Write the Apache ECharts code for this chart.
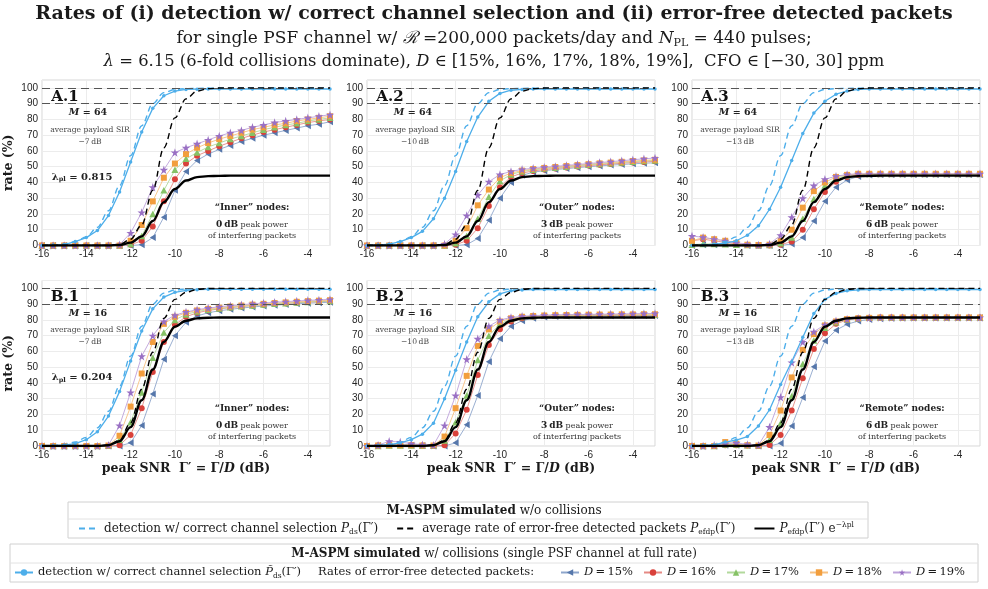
<!DOCTYPE html>
<html><head><meta charset="utf-8">
<script src="https://cdn.jsdelivr.net/npm/echarts@6/dist/echarts.min.js"></script>
<style>html,body{margin:0;padding:0;background:#fff}#c{width:988px;height:589px}</style>
</head><body><div id="c"></div>
<script>
// ---------------- DATA ----------------
const xs = [-16,-15.5,-15,-14.5,-14,-13.5,-13,-12.5,-12,-11.5,-11,-10.5,-10,-9.5,-9,-8.5,-8,-7.5,-7,-6.5,-6,-5.5,-5,-4.5,-4,-3.5,-3];
const xTicks = [-16,-14,-12,-10,-8,-6,-4];
const yTicks = [0,10,20,30,40,50,60,70,80,90,100];
const refLevels = [100, 90];

// w/o collisions (simulated, no markers)
const pdsNoColl = [0.1,0.3,0.8,2.5,5.5,11.5,22,38,57,76,90,97,99,99.5,99.7,99.8,99.8,99.8,99.8,99.8,99.8,99.8,99.8,99.8,99.8,99.8,99.8];
const efdpA   = [0,0,0,0,0,0,0,0.6,4,13,35,62,81,93,98,99.5,99.9,100,100,100,100,100,100,100,100,100,100];
const efdpPlA = [0,0,0,0,0,0,0,0.3,1.8,5.8,15.5,27.5,35.8,41.2,43.4,44,44.2,44.3,44.3,44.3,44.3,44.3,44.3,44.3,44.3,44.3,44.3];
const efdpB   = [0,0,0,0,0,0,0.6,3.7,14.7,36,59.5,81,93,97.5,99.4,99.9,100,100,100,100,100,100,100,100,100,100,100];
const efdpPlB = [0,0,0,0,0,0,0.5,3,12,29,48.5,66,75.7,79.5,81,81.4,81.5,81.5,81.5,81.5,81.5,81.5,81.5,81.5,81.5,81.5,81.5];

// w/ collisions: detection w/ correct channel selection
const pdsA1 = [0,0.3,0.5,2.5,5,9.5,19,34,53,72,87,95,98,99,99.2,99.3,99.3,99.3,99.3,99.3,99.3,99.3,99.3,99.3,99.3,99.3,99.3];
const pdsA2 = [0,0.3,0.8,2.5,5,9,17,30,47,66,81.5,91.5,96.5,98.5,99,99.3,99.3,99.3,99.3,99.3,99.3,99.3,99.3,99.3,99.3,99.3,99.3];
const pdsA3 = [0,0.3,0.8,1.5,3,6.5,12.5,23,37,54,71,84,91.5,96,98,99,99.3,99.3,99.3,99.3,99.3,99.3,99.3,99.3,99.3,99.3,99.3];
const pdsB1 = [0,0.2,0.5,1.5,4,9,19,34.5,54,73,87,94.5,97.5,98.8,99.2,99.4,99.4,99.4,99.4,99.4,99.4,99.4,99.4,99.4,99.4,99.4,99.4];
const pdsB2 = [0,0.3,0.8,2,4,7.5,14.5,30,48,66,82,91.5,96.5,98.5,99,99.3,99.3,99.3,99.3,99.3,99.3,99.3,99.3,99.3,99.3,99.3,99.3];
const pdsB3 = [0,0.3,0.7,2.5,3.8,6,12.7,23,39,53.5,69,84,93,96.8,98.5,99,99.3,99.3,99.3,99.3,99.3,99.3,99.3,99.3,99.3,99.3,99.3];

// w/ collisions: error-free detected packets, D = 15..19 %
const d15A1 = [0,0,0,0,0,0,0,0,0,0.5,5,18,35,47,54,58,61,63.5,66,68,70,71.5,73,74.5,76,77,78.5];
const d16A1 = [0,0,0,0,0,0,0,0,0.5,3,12,28,42,52,57,60,63,65.5,68,70,72,73.5,75,76.5,78,79,80];
const d17A1 = [0,0,0,0,0,0,0,0,1,6,20,35,48,55,59,62.5,65,67.5,69.5,71.5,73.5,75,76.5,77.5,79,80,81];
const d18A1 = [0,0,0,0,0,0,0,0,3,13,28,43,52,58,62,65,67.5,69.5,71.5,73.5,75,76.5,77.5,79,80,81,82];
const d19A1 = [0,0,0,0,0,0,0,0.5,8,21,37,48,59,62,64.5,67,69.5,71.5,73,75,76.5,78,79,80,81,82,83];

const d15A2 = [0,0,0,0,0,0,0,0,0,0.5,4.5,16,30,40,44.5,46.5,47.5,48.2,48.8,49.4,50,50.5,51,51.4,51.8,52.2,52.5];
const d16A2 = [0,0,0,0,0,0,0,0,0.5,3,11,25,37,43.5,46,47.3,48.2,48.9,49.5,50.1,50.7,51.2,51.7,52.2,52.6,53,53.4];
const d17A2 = [0,0,0,0,0,0,0,0,1.5,6,17,31,41,45,47,48,48.8,49.4,50,50.6,51.2,51.7,52.2,52.7,53.2,53.6,54];
const d18A2 = [0,0,0,0,0,0,0,0,3,11,25.5,35.5,43,46,47.5,48.5,49.2,49.8,50.4,51,51.6,52.1,52.6,53.1,53.6,54,54.4];
const d19A2 = [0,0,0,0,0,0,0,1,7,19,32,40.5,45,47,48.3,49,49.6,50.2,50.8,51.4,52,52.6,53.2,53.8,54.4,55,55.5];

const d15A3 = [0,0.5,0.5,1,0.5,0,0,0,0,1,5,15.5,28,37,41.5,43.8,44.8,45,45,45,45,45,45,45,45,45,45];
const d16A3 = [3,4,3,2,1,0.3,0,0,0.5,2.5,10,23,34,40.5,43.5,44.8,45.3,45.3,45.3,45.3,45.3,45.3,45.3,45.3,45.3,45.3,45.3];
const d17A3 = [0.5,1,1,0.8,0.5,0.3,0.2,0.3,1.5,5,17,29.5,38,42.5,44.5,45.3,45.3,45.3,45.3,45.3,45.3,45.3,45.3,45.3,45.3,45.3,45.3];
const d18A3 = [3,5,4,3,1.5,0.5,0.3,0.5,3,10,24,34.5,40,43.5,44.8,45.5,45.5,45.5,45.5,45.5,45.5,45.5,45.5,45.5,45.5,45.5,45.5];
const d19A3 = [6,5.2,4,3,1.8,0.8,0.3,1,6.5,18,30,38,42,44,45,45.5,45.5,45.5,45.5,45.5,45.5,45.5,45.5,45.5,45.5,45.5,45.5];

const d15B1 = [0,0,0,0,0,0,0,0,2,13,33,55,70,78.5,82.5,84.5,85.8,86.7,87.5,88.2,88.8,89.3,89.8,90.2,90.6,90.9,91.2];
const d16B1 = [0,0,0,0,0,0,0,0.5,7,24,47,66,77,82,84.5,86,87,87.8,88.5,89.1,89.6,90.1,90.5,90.9,91.3,91.6,91.9];
const d17B1 = [0,0,0,0,0,0,0.2,4,15,34,56,72,80,83.5,85.3,86.5,87.3,88,88.6,89.2,89.7,90.2,90.6,91,91.4,91.7,92];
const d18B1 = [0,0,0,0,0,0,0.3,6.5,25,46,66,77.5,82,84.5,86,87,87.8,88.5,89.1,89.7,90.2,90.7,91.1,91.5,91.9,92.2,92.5];
const d19B1 = [0,0,0,0,0,0,0.5,13,34,57,70,79,83,85,86.5,87.5,88.3,89,89.6,90.2,90.7,91.2,91.6,92,92.4,92.7,93];

const d15B2 = [0,0.3,0.5,0.5,0.5,0.3,0,0,2,13.5,32,53.5,68,76,79.5,81,81.8,82.2,82.4,82.5,82.6,82.6,82.7,82.7,82.8,82.8,82.8];
const d16B2 = [0,0.3,0.5,0.5,0.5,0.3,0,0.5,8,23,45,64,74,79,81,82,82.4,82.6,82.7,82.8,82.8,82.9,82.9,83,83,83,83];
const d17B2 = [0,0,0.3,0.3,0.3,0.2,0.2,3.5,15,32,54.5,70,77.5,80.5,81.8,82.3,82.6,82.8,82.9,83,83,83.1,83.1,83.2,83.2,83.2,83.2];
const d18B2 = [0,0.3,0.5,0.5,0.5,0.3,0.3,6,24,44.5,63.5,74,79,81,82,82.5,82.8,83,83.1,83.2,83.3,83.4,83.4,83.5,83.5,83.6,83.6];
const d19B2 = [0,0.5,3,2.5,1.5,0.8,0.5,13,32,55,68,76,80,81.5,82.3,82.7,83,83.2,83.3,83.4,83.5,83.6,83.7,83.8,83.9,84,84.1];

const d15B3 = [0,0,0,0.5,0.5,0.3,0,0,1.7,12.7,30.7,50.3,66.6,73.5,77.2,79.3,80.3,80.8,81.1,81.2,81.3,81.3,81.3,81.3,81.3,81.3,81.3];
const d16B3 = [0,0,0,0.5,0.5,0.3,0,0.6,7,22.5,43,61.5,71.5,77.5,80,81,81.3,81.5,81.5,81.5,81.5,81.5,81.5,81.5,81.5,81.5,81.5];
const d17B3 = [0,0,0,1,1,0.5,0.3,4,14.5,31.5,52,67,75,78.5,80.3,81,81.3,81.5,81.5,81.5,81.5,81.5,81.5,81.5,81.5,81.5,81.5];
const d18B3 = [0,0,0,2.5,1.5,0.5,0.3,7,22.5,43.5,61,71,76.5,79,80.5,81,81.3,81.5,81.5,81.5,81.5,81.5,81.5,81.5,81.5,81.5,81.5];
const d19B3 = [0,0,0.5,1.5,2,1,0.5,12,31,53,66,72.5,77,79.5,80.5,81,81.3,81.5,81.5,81.5,81.5,81.5,81.5,81.5,81.5,81.5,81.5];

const dLabels = ['15%','16%','17%','18%','19%'];
const panelIds = ['A.1','A.2','A.3','B.1','B.2','B.3'];
const panelM = ['64','64','64','16','16','16'];
const panelSIR = ['\u22127\u2009dB','\u221210\u2009dB','\u221213\u2009dB','\u22127\u2009dB','\u221210\u2009dB','\u221213\u2009dB'];
const panelLambda = ['0.815', null, null, '0.204', null, null];
const panelNodes = ['\u201cInner\u201d nodes:','\u201cOuter\u201d nodes:','\u201cRemote\u201d nodes:','\u201cInner\u201d nodes:','\u201cOuter\u201d nodes:','\u201cRemote\u201d nodes:'];
const panelPower = ['0\u2009dB','3\u2009dB','6\u2009dB','0\u2009dB','3\u2009dB','6\u2009dB'];

const panelData = [
  {pds: pdsA1, d: [d15A1,d16A1,d17A1,d18A1,d19A1], efdp: efdpA, efdpPl: efdpPlA},
  {pds: pdsA2, d: [d15A2,d16A2,d17A2,d18A2,d19A2], efdp: efdpA, efdpPl: efdpPlA},
  {pds: pdsA3, d: [d15A3,d16A3,d17A3,d18A3,d19A3], efdp: efdpA, efdpPl: efdpPlA},
  {pds: pdsB1, d: [d15B1,d16B1,d17B1,d18B1,d19B1], efdp: efdpB, efdpPl: efdpPlB},
  {pds: pdsB2, d: [d15B2,d16B2,d17B2,d18B2,d19B2], efdp: efdpB, efdpPl: efdpPlB},
  {pds: pdsB3, d: [d15B3,d16B3,d17B3,d18B3,d19B3], efdp: efdpB, efdpPl: efdpPlB}
];

// ---------------- STYLE / LAYOUT ----------------
const SERIF = "'DejaVu Serif', 'Liberation Serif', serif";
const SANS = "'Liberation Sans', Arial, sans-serif";
const lefts = [42, 367, 692];
const tops = [80, 280.5];
const GW = 288, GH = 165.5;
const blue = '#4DAEEA';
const dColors = ['#5677AB','#D9413B','#86C266','#F29E3D','#9A70C4'];
const dLine = ['#8EA6CC','#E58A85','#B2D99C','#F6C182','#BDA2DA'];
const star = 'path://M50,0 L61,35 L98,35 L68,57 L79,91 L50,70 L21,91 L32,57 L2,35 L39,35 Z';
const triLeft = 'path://M0,50 L100,0 L100,100 Z';
const dSymbols = [triLeft, 'circle', 'triangle', 'rect', star];
const dSizes = [[6,7],6,[7,6.5],6,8.5];

const grids = [], xAxes = [], yAxes = [], series = [], graphics = [];
const pair = arr => xs.map((x, i) => [x, arr[i]]);

for (let p = 0; p < 6; p++) {
  const row = Math.floor(p / 3), col = p % 3;
  const L = lefts[col], T = tops[row];
  grids.push({left: L, top: T, width: GW, height: GH, show: true, borderColor: '#d6d6d6', borderWidth: 1, backgroundColor: 'transparent'});
  xAxes.push({
    type: 'value', gridIndex: p, min: -16, max: -3, interval: 2,
    axisLine: {show: false}, axisTick: {show: false},
    splitLine: {show: true, lineStyle: {color: '#ececec', width: 1}},
    axisLabel: {color: '#262626', fontFamily: SANS, fontSize: 10, margin: 4,
      formatter: v => xTicks.includes(v) ? String(v) : ''},
    name: row === 1 ? 'peak SNR  \u0393\u2032 = \u0393/{i|D} (dB)' : '',
    nameLocation: 'middle', nameGap: 16,
    nameTextStyle: {fontFamily: SERIF, fontWeight: 'bold', fontSize: 12.5, color: '#1a1a1a',
      rich: {i: {fontFamily: SERIF, fontWeight: 'bold', fontStyle: 'italic', fontSize: 12.5, color: '#1a1a1a'}}}
  });
  yAxes.push({
    type: 'value', gridIndex: p, min: 0, max: 105, interval: 10,
    axisLine: {show: false}, axisTick: {show: false},
    splitLine: {show: true, lineStyle: {color: '#ececec', width: 1}},
    axisLabel: {color: '#262626', fontFamily: SANS, fontSize: 10, margin: 4,
      formatter: v => yTicks.includes(v) ? String(v) : ''},
    name: col === 0 ? 'rate (%)' : '', nameLocation: 'middle', nameGap: 27, nameRotate: 90,
    nameTextStyle: {fontFamily: SERIF, fontWeight: 'bold', fontSize: 12.5, color: '#1a1a1a'}
  });

  const pd = panelData[p];
  for (let k = 0; k < 5; k++) {
    series.push({
      name: 'd' + k, type: 'line', xAxisIndex: p, yAxisIndex: p, data: pair(pd.d[k]),
      symbol: dSymbols[k], symbolSize: dSizes[k], showSymbol: true, clip: false,
      lineStyle: {color: dLine[k], width: 0.9}, itemStyle: {color: dColors[k]}, z: 2 + k * 0.1, silent: true
    });
  }
  series.push({
    name: 'pdsColl', type: 'line', xAxisIndex: p, yAxisIndex: p, data: pair(pd.pds),
    symbol: 'circle', symbolSize: 3.5, clip: false,
    lineStyle: {color: blue, width: 1.3}, itemStyle: {color: blue}, z: 3, silent: true
  });
  series.push({
    name: 'pdsNo', type: 'line', xAxisIndex: p, yAxisIndex: p, data: pair(pdsNoColl),
    symbol: 'none', smooth: 0.35, smoothMonotone: 'x',
    lineStyle: {color: blue, width: 1.4, type: [6, 4]}, itemStyle: {color: blue}, z: 4, silent: true,
    markLine: {silent: true, symbol: ['none', 'none'], label: {show: false},
      lineStyle: {color: '#555555', width: 1, type: [8, 5]},
      data: refLevels.map(v => ({yAxis: v}))}
  });
  series.push({
    name: 'efdp', type: 'line', xAxisIndex: p, yAxisIndex: p, data: pair(pd.efdp),
    symbol: 'none', smooth: 0.35, smoothMonotone: 'x',
    lineStyle: {color: '#000', width: 1.4, type: [6, 4]}, itemStyle: {color: '#000'}, z: 5, silent: true
  });
  series.push({
    name: 'efdpPl', type: 'line', xAxisIndex: p, yAxisIndex: p, data: pair(pd.efdpPl),
    symbol: 'none', smooth: 0.35, smoothMonotone: 'x',
    lineStyle: {color: '#000', width: 2.4}, itemStyle: {color: '#000'}, z: 6, silent: true
  });

  const txt = (x, y, text, font, extra) => graphics.push(Object.assign({
    type: 'text', x, y, silent: true, z: 100,
    style: Object.assign({text, font, fill: '#2a2a2a', align: 'center', verticalAlign: 'middle'}, extra || {})
  }));
  txt(L + 23, T + 17, panelIds[p], 'bold 15px ' + SERIF, {fill: '#111'});
  txt(L + 46, T + 33, '{i|M} = ' + panelM[p], 'bold 9.5px ' + SERIF,
    {fill: '#222', rich: {i: {font: 'italic bold 9.5px ' + SERIF, fill: '#222'}}});
  txt(L + 48, T + 50, 'average payload SIR', '7.6px ' + SERIF, {fill: '#444'});
  txt(L + 48, T + 62, panelSIR[p], '7.6px ' + SERIF, {fill: '#444'});
  if (panelLambda[p]) {
    txt(L + 40, T + 97, '\u03bb{s|pl} = ' + panelLambda[p], 'bold 10px ' + SERIF,
      {fill: '#222', rich: {s: {font: 'bold 6.5px ' + SERIF, fill: '#222', verticalAlign: 'bottom', padding: [5, 0, 0, 0]}}});
  }
  txt(L + 210, T + 128, panelNodes[p], 'bold 9px ' + SERIF, {fill: '#222'});
  txt(L + 210, T + 145, '{b|' + panelPower[p] + '} peak power', '8px ' + SERIF,
    {fill: '#333', rich: {b: {font: 'bold 9px ' + SERIF, fill: '#222'}}});
  txt(L + 210, T + 156, 'of interfering packets', '8px ' + SERIF, {fill: '#333'});
}

// titles
const T1 = (y, text, font, rich) => graphics.push({type: 'text', x: 494, y, silent: true,
  style: {text, font, fill: '#1a1a1a', align: 'center', verticalAlign: 'middle', rich: rich || {}}});
T1(14, 'Rates of (i) detection w/ correct channel selection and (ii) error-free detected packets', 'bold 19px ' + SERIF);
T1(39, 'for single PSF channel w/ {i|\u211b} =200,000 packets/day and {i|N}{s|PL} = 440 pulses;', '17px ' + SERIF,
  {i: {font: 'italic 17px ' + SERIF, fill: '#1a1a1a'}, s: {font: '11px ' + SERIF, fill: '#1a1a1a', verticalAlign: 'bottom', padding: [9, 0, 0, 0]}});
T1(62, '{i|\u03bb} = 6.15 (6-fold collisions dominate), {i|D} \u2208 [15%, 16%, 17%, 18%, 19%],  CFO \u2208 [\u221230, 30] ppm', '16.4px ' + SERIF,
  {i: {font: 'italic 16.4px ' + SERIF, fill: '#1a1a1a'}});

// legend boxes
graphics.push({type: 'rect', shape: {x: 68, y: 502, width: 800, height: 36}, style: {fill: '#fff', stroke: '#d0d0d0', lineWidth: 1}, z: -1, silent: true});
graphics.push({type: 'line', shape: {x1: 68, y1: 519, x2: 868, y2: 519}, style: {stroke: '#e2e2e2', lineWidth: 1}, z: -1, silent: true});
graphics.push({type: 'rect', shape: {x: 10, y: 544, width: 968, height: 38}, style: {fill: '#fff', stroke: '#d0d0d0', lineWidth: 1}, z: -1, silent: true});
graphics.push({type: 'line', shape: {x1: 10, y1: 563, x2: 978, y2: 563}, style: {stroke: '#e2e2e2', lineWidth: 1}, z: -1, silent: true});
T1(510.5, '{b|M-ASPM simulated} w/o collisions', '12px ' + SERIF, {b: {font: 'bold 12px ' + SERIF, fill: '#1a1a1a'}});
T1(553.5, '{b|M-ASPM simulated} w/ collisions (single PSF channel at full rate)', '12px ' + SERIF, {b: {font: 'bold 12px ' + SERIF, fill: '#1a1a1a'}});
graphics.push({type: 'text', x: 318, y: 572.5, silent: true,
  style: {text: 'Rates of error-free detected packets:', font: '11.5px ' + SERIF, fill: '#1a1a1a', align: 'left', verticalAlign: 'middle'}});

const mkRich = fs => ({
  i: {fontFamily: SERIF, fontStyle: 'italic', fontSize: fs, color: '#1a1a1a', lineHeight: 15},
  s: {fontFamily: SERIF, fontSize: 7.5, color: '#1a1a1a', verticalAlign: 'bottom', lineHeight: 9, padding: [4, 0, 0, 0]},
  u: {fontFamily: SERIF, fontSize: 7.5, color: '#1a1a1a', verticalAlign: 'top', lineHeight: 9}
});
const legText = {
  pdsNo: 'detection w/ correct channel selection {i|P}{s|ds}(\u0393\u2032)',
  efdp: 'average rate of error-free detected packets {i|P}{s|efdp}(\u0393\u2032)',
  efdpPl: '{i|P}{s|efdp}(\u0393\u2032) e{u|\u2212\u03bbpl}',
  pdsColl: 'detection w/ correct channel selection {i|P\u0303}{s|ds}(\u0393\u2032)',
  d0: '{i|D}\u2009=\u2009' + dLabels[0], d1: '{i|D}\u2009=\u2009' + dLabels[1], d2: '{i|D}\u2009=\u2009' + dLabels[2],
  d3: '{i|D}\u2009=\u2009' + dLabels[3], d4: '{i|D}\u2009=\u2009' + dLabels[4]
};
const legBase = fs => ({
  orient: 'horizontal', itemWidth: 20, itemHeight: 8, selectedMode: false, width: 900, padding: 0,
  formatter: n => legText[n],
  textStyle: {fontFamily: SERIF, fontSize: fs, color: '#1a1a1a', lineHeight: 15, rich: mkRich(fs)}
});
const hideSym = n => ({name: n, itemStyle: {opacity: 0}});

const option = {
  animation: false,
  backgroundColor: '#fff',
  grid: grids, xAxis: xAxes, yAxis: yAxes, series,
  legend: [
    Object.assign({}, legBase(12), {data: [hideSym('pdsNo'), hideSym('efdp'), hideSym('efdpPl')], left: 78, top: 521, itemGap: 18}),
    Object.assign({}, legBase(11.5), {data: ['pdsColl'], left: 14, top: 565, itemWidth: 18}),
    Object.assign({}, legBase(11.5), {data: ['d0', 'd1', 'd2', 'd3', 'd4'], left: 560, top: 565, itemGap: 10, itemWidth: 18, width: 480})
  ],
  graphic: graphics
};
const chart = echarts.init(document.getElementById('c'));
chart.setOption(option);
</script></body></html>
